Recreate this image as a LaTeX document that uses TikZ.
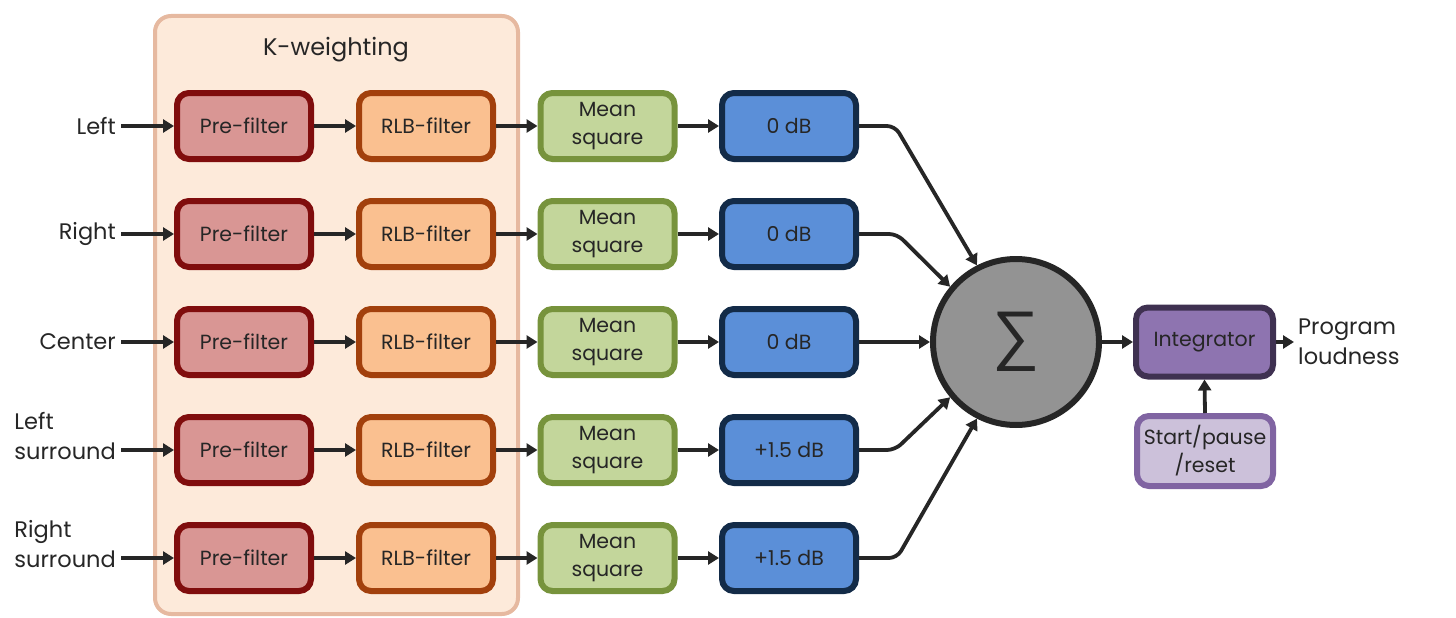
\documentclass[tikz,border=0pt]{standalone}
\usepackage{fontspec}
\setmainfont{Poppins}
\newfontfamily\symfont{Liberation Sans}
\usetikzlibrary{arrows.meta}
\definecolor{txt}{HTML}{262626}
\definecolor{kfill}{HTML}{FDEADA}
\definecolor{kline}{HTML}{E6B9A0}
\definecolor{prefill}{HTML}{D99694}
\definecolor{preline}{HTML}{800D0D}
\definecolor{rlbfill}{HTML}{FAC090}
\definecolor{rlbline}{HTML}{A2400C}
\definecolor{msfill}{HTML}{C3D69B}
\definecolor{msline}{HTML}{77933C}
\definecolor{dbfill}{HTML}{5B8FD8}
\definecolor{dbline}{HTML}{132B48}
\definecolor{sumfill}{HTML}{939393}
\definecolor{sumline}{HTML}{262626}
\definecolor{intfill}{HTML}{8E74B0}
\definecolor{intline}{HTML}{3F3151}
\definecolor{stfill}{HTML}{CCC1DA}
\definecolor{stline}{HTML}{8064A2}
\begin{document}
\begin{tikzpicture}[x=1pt,y=-1pt,
  every node/.style={text=txt},
  lbl/.style={font=\fontsize{22.5}{30}\selectfont, inner sep=0pt},
  blk/.style={rounded corners=12pt, line width=6pt, minimum width=134pt, minimum height=66pt,
     inner sep=0pt, align=center, font=\fontsize{20.5}{28}\selectfont},
  preblk/.style={blk, draw=preline, fill=prefill},
  rlbblk/.style={blk, draw=rlbline, fill=rlbfill},
  msblk/.style={blk, draw=msline, fill=msfill},
  dbblk/.style={blk, draw=dbline, fill=dbfill},
  arr/.style={draw=txt, line width=3.8pt, -{Triangle[length=11pt,width=13pt]}},
]
\useasboundingbox (0,0) rectangle (1456,618);
\node[draw=kline, fill=kfill, line width=4pt, rounded corners=16pt,
      minimum width=363pt, minimum height=598pt] (kbox) at (336.5,315) {};
\node[lbl, font=\fontsize{24}{30}\selectfont] (ktitle) at (336,50) {K-weighting};

\foreach \i/\y/\name in {1/126/Left, 2/234/Right, 3/342/Center}{
  \node[lbl, anchor=east] (in\i) at (116,\y) {\name};
}
\node[lbl, anchor=east, align=left] (in4) at (116,436) {Left\\surround};
\node[lbl, anchor=east, align=left] (in5) at (116,544) {Right\\surround};

\foreach \i/\y/\g in {1/126/0 dB, 2/234/0 dB, 3/342/0 dB, 4/450/+1.5 dB, 5/558/+1.5 dB}{
  \node[preblk] (pre\i) at (244,\y) {Pre-filter};
  \node[rlbblk] (rlb\i) at (426,\y) {RLB-filter};
  \node[msblk] (ms\i) at (607.5,\y) {Mean\\square};
  \node[dbblk] (db\i) at (789,\y) {\g};
  \draw[arr, shorten <=5pt] (in\i.east |- pre\i.west) -- (pre\i.west);
  \draw[arr] (pre\i.east) -- (rlb\i.west);
  \draw[arr] (rlb\i.east) -- (ms\i.west);
  \draw[arr] (ms\i.east) -- (db\i.west);
}

\node[circle, draw=sumline, fill=sumfill, line width=6pt, minimum size=166pt, inner sep=0pt,
      font=\symfont\fontsize{66}{66}\selectfont] (sum) at (1016,342) {∑};

\draw[arr, rounded corners=8pt] (db1.east) -- ++(36,0) -- (sum.117);
\draw[arr, rounded corners=8pt] (db2.east) -- ++(38,0) -- (sum.140);
\draw[arr] (db3.east) -- (sum.west);
\draw[arr, rounded corners=8pt] (db4.east) -- ++(36,0) -- (sum.220);
\draw[arr, rounded corners=8pt] (db5.east) -- ++(38,0) -- (sum.243);

\node[blk, draw=intline, fill=intfill, minimum width=137pt, minimum height=69pt] (int) at (1204.5,342) {Integrator};
\node[blk, draw=stline, fill=stfill, minimum width=136pt, minimum height=70pt] (st) at (1205,451) {Start/pause\\/reset};
\node[lbl, anchor=west, align=left] (out) at (1298,342) {Program\\loudness};

\draw[arr] (sum.east) -- (int.west);
\draw[arr, shorten >=4pt] (int.east) -- (out.west);
\draw[arr] (st.north) -- (int.south);
\end{tikzpicture}
\end{document}
